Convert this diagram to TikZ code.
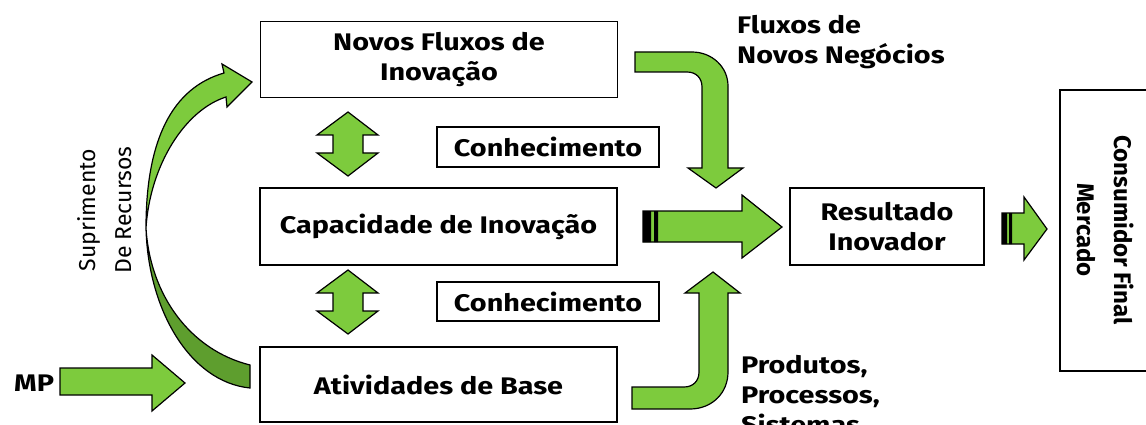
\documentclass[tikz,border=0pt]{standalone}
\usepackage{fontspec}
\setmainfont{Fira Sans}[FakeStretch=1.2]
\newfontfamily\plainf{Fira Sans}
\definecolor{lg}{HTML}{7DCB3D}
\definecolor{dg}{HTML}{5E9E2E}
\begin{document}
\begin{tikzpicture}[x=1pt,y=-1pt,
  box/.style={draw=black, line width=1.2pt, fill=white, align=center, inner sep=0pt,
    font=\fontsize{24}{30}\selectfont\bfseries},
  lbl/.style={align=left, inner sep=0pt, font=\fontsize{24}{30}\selectfont\bfseries},
  blk/.style={draw=black, line width=1.2pt, fill=lg, line join=miter}]
\useasboundingbox (0,0) rectangle (1146,425);
% boxes
\node[box, minimum width=357pt, minimum height=76pt] (nf) at (439,59.5) {Novos Fluxos de\\Inovação};
\node[box, minimum width=357pt, minimum height=77pt] (ci) at (438.5,226.5) {Capacidade de Inovação};
\node[box, minimum width=357pt, minimum height=75pt] (ab) at (438.5,384.5) {Atividades de Base};
\node[box, minimum width=222pt, minimum height=40pt] (k1) at (548,147) {Conhecimento};
\node[box, minimum width=222pt, minimum height=39pt] (k2) at (548,301.5) {Conhecimento};
\node[box, minimum width=194pt, minimum height=77pt] (ri) at (887,226.5) {Resultado\\Inovador};
\begin{scope}
\clip (0,0) rectangle (1146,425);
\node[box, minimum width=92pt, minimum height=281pt] (cm) at (1106,230.5) {};
\end{scope}
\node[align=center, inner sep=0pt, rotate=-90, font=\plainf\fontsize{24}{37}\selectfont\bfseries] (cmt) at (1106,230) {Consumidor Final\\Mercado};
% labels
\node[lbl, anchor=west] (mp) at (14,383) {MP};
\node[align=center, inner sep=0pt, rotate=90, font=\plainf\fontsize{23}{36}\selectfont] (sr) at (105,210) {Suprimento\\De Recursos};
\node[lbl, anchor=north west] (fn) at (737,15) {Fluxos de\\Novos Negócios};
\node[lbl, anchor=north west] (pp) at (741,355) {Produtos,\\Processos,\\Sistemas};
% straight arrows
\draw[blk] (60,368) -- (152,368) -- (152,355) -- (185,383) -- (152,411) -- (152,395) -- (60,395) -- cycle;
\draw[blk] (643,211) -- (742,211) -- (742,195) -- (782,227) -- (742,258) -- (742,242) -- (643,242) -- cycle;
\fill[black] (643,211) rectangle (651,242) (654,211) rectangle (658,242);
\draw[blk] (1002,213) -- (1024,213) -- (1024,197) -- (1047,229) -- (1024,260) -- (1024,244) -- (1002,244) -- cycle;
\fill[black] (1002,213) rectangle (1007,244) (1009,213) rectangle (1012,244);
% double arrows
\foreach \dy in {0,158}{
\begin{scope}[yshift=-\dy pt]
\draw[blk] (348,112) -- (378,135) -- (363,135) -- (363,153) -- (378,153) -- (348,176) -- (317,153) -- (333,153) -- (333,135) -- (317,135) -- cycle;
\end{scope}}
% bent arrows
\draw[blk] (635,52) -- (692,52) .. controls (712,52) and (728,67) .. (728,86) -- (728,168) -- (743,168) -- (716,188) -- (688,168) -- (702,168) -- (702,87) .. controls (702,78) and (696,72) .. (687,72) -- (635,72) -- cycle;
\draw[blk] (632,387) -- (684,387) .. controls (693,387) and (699,381) .. (699,372) -- (699,293) -- (685,293) -- (713,272) -- (740,293) -- (728,293) -- (728,372) .. controls (728,393) and (712,409) .. (690,409) -- (632,409) -- cycle;
% curved arrow
\draw[draw=black, line width=1.2pt, fill=dg] (250,365) .. controls (190,350) and (150,295) .. (146,228) .. controls (148,310) and (190,382) .. (250,388) -- cycle;
\draw[blk] (146,228) .. controls (146,140) and (172,88) .. (224,73) -- (222,64) -- (252,82) -- (227,107) -- (226,97) .. controls (185,110) and (150,165) .. (146,228) -- cycle;
\end{tikzpicture}
\end{document}
